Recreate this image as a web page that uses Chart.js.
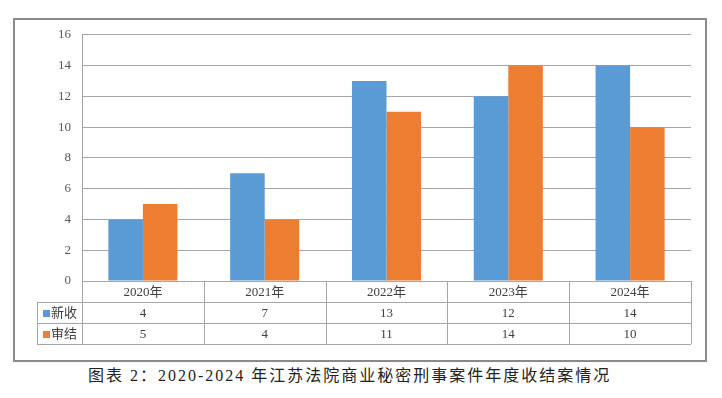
<!DOCTYPE html>
<html>
<head>
<meta charset="utf-8">
<script src="https://cdn.jsdelivr.net/npm/chart.js@4/dist/chart.umd.min.js"></script>
<style>
  html, body { margin: 0; padding: 0; background: #fff; }
  body { width: 722px; height: 398px; position: relative; overflow: hidden; }
  .frame {
    position: absolute; left: 13px; top: 18px;
    width: 694px; height: 344px;
    box-sizing: border-box;
    border: 2px solid #8a8a8a;
  }
  /* canvas is pulled up a little so the plot top sits where the reference has it */
  .frame canvas { display: block; margin-top: -4px; }
  .caption {
    position: absolute; left: 88px; top: 362px;
    font-family: "Liberation Serif", "Noto Sans CJK SC", serif;
    font-size: 16px; letter-spacing: 2px; color: #222;
    white-space: nowrap;
  }
</style>
</head>
<body>
<div class="frame"><canvas id="myChart" width="690" height="344"></canvas></div>
<div class="caption">图表 2：2020-2024 年江苏法院商业秘密刑事案件年度收结案情况</div>

<script>
// 数据
const categories = ['2020年', '2021年', '2022年', '2023年', '2024年'];
const xinshou = [4, 7, 13, 12, 14];   // 新收
const shenjie = [5, 4, 11, 14, 10];   // 审结
const seriesNames = ['新收', '审结'];
const seriesColors = ['#5b9bd5', '#ed7d31'];

const gridColor = '#a6a6a6';
const textColor = '#404040';
const serif = '"Liberation Serif", "Noto Sans CJK SC", serif';

// 图表下方的数据表
const dataTable = {
  id: 'dataTable',
  afterDraw(chart) {
    const c = chart.ctx;
    const area = chart.chartArea;
    const xs = chart.scales.x;
    const n = categories.length;
    const colW = (area.right - area.left) / n;
    const rowH = 21;
    const labelLeft = area.left - 45;
    const rows = [area.bottom, area.bottom + rowH, area.bottom + rowH * 2, area.bottom + rowH * 3];

    c.save();
    c.strokeStyle = gridColor;
    c.lineWidth = 1;
    c.beginPath();
    // horizontal lines
    c.moveTo(area.left, rows[0] + 0.5); c.lineTo(area.right, rows[0] + 0.5);
    for (let r = 1; r < rows.length; r++) {
      c.moveTo(labelLeft, Math.round(rows[r]) + 0.5);
      c.lineTo(area.right, Math.round(rows[r]) + 0.5);
    }
    // vertical lines
    for (let i = 0; i <= n; i++) {
      const x = Math.round(area.left + i * colW) + 0.5;
      c.moveTo(x, rows[0]); c.lineTo(x, rows[3]);
    }
    c.moveTo(labelLeft + 0.5, rows[1]); c.lineTo(labelLeft + 0.5, rows[3]);
    c.stroke();

    c.fillStyle = textColor;
    c.textAlign = 'center';
    c.textBaseline = 'middle';
    c.font = '13px ' + serif;
    const series = [xinshou, shenjie];
    categories.forEach((cat, i) => {
      const x = xs.getPixelForValue(i);
      c.fillText(cat, x, rows[0] + rowH / 2 + 1);
      series.forEach((vals, s) => {
        c.fillText(String(vals[i]), x, rows[s + 1] + rowH / 2 + 1);
      });
    });

    // legend keys in the first column
    c.textAlign = 'left';
    seriesNames.forEach((name, s) => {
      const y = rows[s + 1] + rowH / 2;
      c.fillStyle = seriesColors[s];
      c.fillRect(labelLeft + 6, Math.round(y - 3), 7, 7);
      c.fillStyle = textColor;
      c.fillText(name, labelLeft + 14, y + 1);
    });
    c.restore();
  }
};

const chart = new Chart(document.getElementById('myChart'), {
  type: 'bar',
  data: {
    labels: categories,
    datasets: [
      { label: seriesNames[0], data: xinshou, backgroundColor: seriesColors[0] },
      { label: seriesNames[1], data: shenjie, backgroundColor: seriesColors[1] }
    ]
  },
  options: {
    responsive: false,
    animation: false,
    layout: { padding: { left: 0, top: 8, right: 14, bottom: 79 } },
    datasets: {
      bar: { barPercentage: 1, categoryPercentage: 0.567, borderWidth: 0 }
    },
    plugins: {
      legend: { display: false },
      tooltip: { enabled: false }
    },
    scales: {
      x: { display: false },
      y: {
        min: 0, max: 16,
        ticks: {
          stepSize: 2, padding: 11, color: '#595959',
          font: { family: serif, size: 13 }
        },
        grid: { color: gridColor, drawTicks: false },
        border: { display: true, color: gridColor },
        afterFit(scale) { scale.width = 67; }
      }
    }
  },
  plugins: [dataTable]
});
</script>
</body>
</html>
